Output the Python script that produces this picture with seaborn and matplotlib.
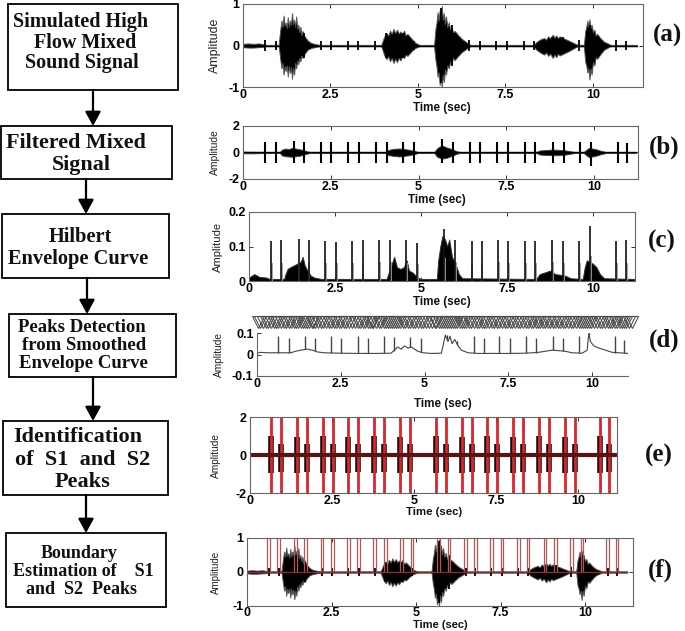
import numpy as np
import matplotlib
matplotlib.use('Agg')
import matplotlib.pyplot as plt
import seaborn as sns
from matplotlib.patches import Rectangle, FancyArrowPatch

# ---------------- data ----------------
s1_times = [0.64, 1.44, 2.22, 3.00, 3.78, 4.57, 5.67, 6.47, 7.23, 8.03, 8.82, 9.60, 10.67]
s2_times = [0.94, 1.73, 2.52, 3.30, 4.09, 4.88, 5.98, 6.76, 7.54, 8.31, 9.13, 9.91, 10.95]

# (a)/(f) simulated mixed signal: heart-sound spikes + lung-sound envelope (t, upper, lower)
mix_s1_amp = [0.13, 0.5, 0.12, 0.12, 0.12, 0.3, 0.9, 0.13, 0.12, 0.12, 0.2, 0.14, 0.13]
mix_s2_amp = [0.12, 0.3, 0.11, 0.12, 0.3, 0.12, 0.5, 0.12, 0.12, 0.12, 0.2, 0.5, 0.12]
mix_env = [
    (0.00, 0.04, -0.04), (0.15, 0.05, -0.05), (0.30, 0.04, -0.05), (0.45, 0.05, -0.04),
    (0.58, 0.03, -0.03), (0.62, 0.015, -0.015),
    (1.02, 0.015, -0.015), (1.06, 0.35, -0.30), (1.10, 0.60, -0.55), (1.13, 0.45, -0.42),
    (1.16, 0.72, -0.70), (1.19, 0.48, -0.50), (1.22, 0.55, -0.62), (1.25, 0.42, -0.48),
    (1.28, 0.68, -0.75), (1.31, 0.45, -0.50), (1.34, 0.60, -0.66), (1.37, 0.50, -0.52),
    (1.40, 0.78, -0.80), (1.43, 0.52, -0.55), (1.46, 0.62, -0.70), (1.49, 0.45, -0.42),
    (1.52, 0.70, -0.55), (1.55, 0.40, -0.36), (1.58, 0.50, -0.45), (1.61, 0.32, -0.30),
    (1.64, 0.45, -0.38), (1.67, 0.25, -0.24), (1.70, 0.35, -0.30), (1.76, 0.22, -0.20),
    (1.85, 0.12, -0.10), (1.95, 0.06, -0.06), (2.10, 0.03, -0.03), (2.20, 0.015, -0.015),
    (3.95, 0.015, -0.015), (4.03, 0.20, -0.22), (4.10, 0.30, -0.33), (4.15, 0.24, -0.26),
    (4.20, 0.36, -0.38), (4.25, 0.28, -0.30), (4.30, 0.40, -0.42), (4.35, 0.30, -0.32),
    (4.40, 0.38, -0.40), (4.45, 0.29, -0.30), (4.50, 0.34, -0.36), (4.55, 0.27, -0.26),
    (4.60, 0.36, -0.30), (4.65, 0.24, -0.22), (4.70, 0.28, -0.25), (4.80, 0.18, -0.15),
    (4.90, 0.08, -0.07), (5.00, 0.03, -0.03), (5.05, 0.015, -0.015),
    (5.46, 0.015, -0.015), (5.50, 0.40, -0.35), (5.53, 0.55, -0.50), (5.56, 0.80, -0.75),
    (5.59, 0.60, -0.65), (5.62, 0.85, -0.95), (5.65, 0.65, -0.75), (5.68, 0.95, -1.00),
    (5.71, 0.62, -0.70), (5.74, 0.78, -0.88), (5.77, 0.52, -0.58), (5.80, 0.70, -0.70),
    (5.84, 0.45, -0.48), (5.88, 0.56, -0.55), (5.92, 0.38, -0.38), (5.96, 0.46, -0.45),
    (6.00, 0.32, -0.30), (6.05, 0.35, -0.35), (6.15, 0.25, -0.25), (6.25, 0.16, -0.16),
    (6.35, 0.10, -0.10), (6.45, 0.04, -0.04), (6.50, 0.015, -0.015),
    (8.30, 0.015, -0.015), (8.38, 0.08, -0.10), (8.48, 0.14, -0.16), (8.60, 0.18, -0.22),
    (8.66, 0.14, -0.17), (8.72, 0.22, -0.25), (8.78, 0.17, -0.20), (8.85, 0.26, -0.30),
    (8.90, 0.19, -0.22), (8.95, 0.24, -0.28), (9.00, 0.18, -0.20), (9.05, 0.22, -0.24),
    (9.15, 0.18, -0.20), (9.30, 0.12, -0.14), (9.45, 0.06, -0.07), (9.55, 0.02, -0.02),
    (9.74, 0.015, -0.015), (9.78, 0.35, -0.40), (9.81, 0.45, -0.48), (9.84, 0.60, -0.65),
    (9.87, 0.45, -0.55), (9.90, 0.63, -0.82), (9.93, 0.42, -0.55), (9.96, 0.50, -0.70),
    (10.00, 0.32, -0.40), (10.04, 0.38, -0.48), (10.08, 0.24, -0.28), (10.12, 0.28, -0.32),
    (10.22, 0.17, -0.20), (10.32, 0.09, -0.10), (10.45, 0.04, -0.04), (10.50, 0.015, -0.015),
    (11.25, 0.015, -0.015)]

# (b) filtered signal
filt_s1_pos = [0.80, 0.85, 0.80, 0.80, 0.80, 0.80, 1.05, 0.80, 0.80, 0.80, 0.80, 0.80, 0.80]
filt_s1_neg = [-0.80, -0.80, -0.80, -0.80, -0.80, -0.80, -0.80, -0.80, -0.80, -0.80, -0.80, -0.80, -0.80]
filt_s2_pos = [0.80, 0.80, 0.80, 0.80, 0.80, 0.80, 0.80, 0.80, 0.80, 0.80, 0.80, 0.80, 0.75]
filt_s2_neg = [-0.80, -0.80, -0.80, -0.80, -0.80, -0.80, -0.80, -0.80, -0.80, -0.80, -0.80, -1.05, -0.80]
filt_env = [
    (0.00, 0.06, -0.06), (0.30, 0.05, -0.06), (0.58, 0.04, -0.04), (0.62, 0.03, -0.03),
    (1.05, 0.03, -0.03), (1.10, 0.20, -0.20), (1.20, 0.30, -0.28), (1.30, 0.25, -0.30),
    (1.40, 0.35, -0.32), (1.50, 0.30, -0.28), (1.60, 0.25, -0.25), (1.70, 0.20, -0.18),
    (1.80, 0.10, -0.10), (1.90, 0.04, -0.04),
    (4.05, 0.03, -0.03), (4.15, 0.20, -0.20), (4.30, 0.28, -0.26), (4.45, 0.30, -0.30),
    (4.60, 0.26, -0.25), (4.75, 0.20, -0.20), (4.90, 0.10, -0.10), (5.00, 0.03, -0.03),
    (5.45, 0.03, -0.03), (5.52, 0.30, -0.30), (5.60, 0.45, -0.40), (5.70, 0.50, -0.45),
    (5.80, 0.38, -0.40), (5.90, 0.30, -0.30), (6.00, 0.20, -0.20), (6.10, 0.08, -0.08),
    (6.20, 0.03, -0.03),
    (8.35, 0.03, -0.03), (8.45, 0.15, -0.15), (8.60, 0.18, -0.18), (8.80, 0.22, -0.20),
    (9.00, 0.20, -0.20), (9.20, 0.15, -0.15), (9.35, 0.08, -0.08), (9.45, 0.03, -0.03),
    (9.70, 0.03, -0.03), (9.78, 0.20, -0.20), (9.85, 0.35, -0.35), (9.95, 0.30, -0.30),
    (10.05, 0.25, -0.25), (10.20, 0.12, -0.12), (10.35, 0.03, -0.03), (11.20, 0.03, -0.03)]

# (c) Hilbert envelope
hilb_s1_amp = [0.117, 0.122, 0.117, 0.115, 0.120, 0.118, 0.150, 0.115, 0.120, 0.115, 0.120, 0.115, 0.115]
hilb_s2_amp = [0.118, 0.118, 0.114, 0.119, 0.120, 0.110, 0.120, 0.115, 0.115, 0.115, 0.115, 0.160, 0.118]
hilb_env = [
    (0.00, 0.010), (0.15, 0.020), (0.30, 0.012), (0.50, 0.010), (0.60, 0.006),
    (1.02, 0.006), (1.06, 0.020), (1.12, 0.035), (1.20, 0.040), (1.30, 0.045), (1.40, 0.050),
    (1.50, 0.055), (1.56, 0.070), (1.62, 0.045), (1.70, 0.030), (1.80, 0.015), (1.90, 0.010),
    (2.10, 0.006), (4.00, 0.006), (4.08, 0.030), (4.15, 0.050), (4.22, 0.070), (4.30, 0.040),
    (4.40, 0.035), (4.50, 0.040), (4.58, 0.060), (4.65, 0.030), (4.75, 0.025), (4.90, 0.010),
    (5.00, 0.006), (5.46, 0.006), (5.50, 0.060), (5.56, 0.100), (5.62, 0.130), (5.70, 0.120),
    (5.76, 0.100), (5.82, 0.120), (5.90, 0.070), (6.00, 0.050), (6.10, 0.020), (6.20, 0.008),
    (8.35, 0.006), (8.45, 0.020), (8.60, 0.025), (8.75, 0.030), (8.90, 0.020), (9.05, 0.018),
    (9.20, 0.015), (9.35, 0.008), (9.70, 0.006), (9.76, 0.040), (9.82, 0.060), (9.90, 0.055),
    (10.00, 0.050), (10.10, 0.040), (10.20, 0.020), (10.32, 0.008), (11.20, 0.006)]

# (d) smoothed envelope and detected peaks
smooth_s1_amp = [0.087, 0.087, 0.087, 0.087, 0.087, 0.083, 0.090, 0.086, 0.086, 0.086, 0.084, 0.084, 0.086]
smooth_s2_amp = [0.075, 0.075, 0.075, 0.077, 0.083, 0.075, 0.065, 0.075, 0.075, 0.075, 0.078, 0.098, 0.067]
smooth_base = [
    (0.00, 0.005), (0.10, 0.010), (0.30, 0.008), (0.60, 0.008), (1.00, 0.008), (1.15, 0.015),
    (1.30, 0.020), (1.50, 0.025), (1.65, 0.020), (1.80, 0.012), (2.00, 0.008), (2.50, 0.006),
    (3.00, 0.005), (3.50, 0.005), (4.00, 0.006), (4.10, 0.020), (4.20, 0.035), (4.30, 0.025),
    (4.40, 0.040), (4.50, 0.030), (4.60, 0.035), (4.70, 0.025), (4.80, 0.015), (4.95, 0.008),
    (5.20, 0.005), (5.50, 0.006), (5.55, 0.040), (5.62, 0.090), (5.70, 0.060), (5.76, 0.085),
    (5.82, 0.050), (5.90, 0.070), (6.00, 0.040), (6.10, 0.020), (6.30, 0.008), (6.60, 0.005),
    (7.00, 0.005), (7.50, 0.005), (8.00, 0.006), (8.40, 0.010), (8.60, 0.015), (8.80, 0.020),
    (9.00, 0.018), (9.20, 0.015), (9.40, 0.008), (9.70, 0.006), (9.85, 0.020), (9.90, 0.098),
    (9.95, 0.060), (10.05, 0.040), (10.20, 0.030), (10.40, 0.020), (10.60, 0.010), (11.00, 0.006),
    (11.10, 0.005)]
peak_marks = [0.02, 0.10, 0.17, 0.26, 0.33, 0.41, 0.50, 0.57, 0.64, 0.72, 0.80, 0.87, 0.94,
              1.02, 1.09, 1.16, 1.22, 1.30, 1.37, 1.44, 1.50, 1.56, 1.63, 1.68, 1.73, 1.81,
              1.90, 1.98, 2.06, 2.14, 2.22, 2.30, 2.37, 2.45, 2.52, 2.60, 2.67, 2.75, 2.84,
              2.92, 3.00, 3.08, 3.16, 3.23, 3.30, 3.37, 3.42, 3.47, 3.55, 3.63, 3.70, 3.78,
              3.85, 3.92, 3.98, 4.04, 4.09, 4.15, 4.21, 4.28, 4.35, 4.42, 4.50, 4.57, 4.64,
              4.72, 4.80, 4.88, 4.96, 5.05, 5.14, 5.22, 5.30, 5.35, 5.42, 5.50, 5.56, 5.62,
              5.67, 5.72, 5.78, 5.84, 5.90, 5.98, 6.06, 6.12, 6.18, 6.25, 6.32, 6.40, 6.47,
              6.55, 6.63, 6.70, 6.76, 6.84, 6.92, 7.00, 7.08, 7.16, 7.23, 7.31, 7.39, 7.47,
              7.54, 7.62, 7.70, 7.78, 7.86, 7.95, 8.03, 8.10, 8.17, 8.24, 8.31, 8.38, 8.45,
              8.52, 8.60, 8.67, 8.75, 8.82, 8.90, 8.97, 9.05, 9.13, 9.20, 9.28, 9.36, 9.44,
              9.52, 9.60, 9.66, 9.72, 9.78, 9.85, 9.91, 9.98, 10.06, 10.14, 10.22, 10.30,
              10.38, 10.46, 10.54, 10.60, 10.67, 10.75, 10.83, 10.90, 10.95, 11.02, 11.10, 11.18]
peak_mark_level = 0.15

# (e) identified S1/S2 bursts
e_s1_pos = [1.00, 0.95, 1.00, 0.95, 1.00, 0.95, 1.00, 0.95, 1.00, 0.95, 1.00, 0.95, 1.00]
e_s1_neg = [-0.95, -0.95, -0.95, -0.95, -0.95, -0.95, -0.95, -0.95, -0.95, -0.95, -0.95, -0.95, -0.95]
e_s2_pos = [0.60, 0.60, 0.60, 0.60, 0.60, 0.60, 0.60, 0.60, 0.60, 0.60, 0.60, 0.60, 0.60]
e_s2_neg = [-0.90, -0.90, -0.90, -0.90, -0.90, -0.90, -0.90, -0.90, -0.90, -0.90, -0.90, -0.90, -0.90]

xticks = [0, 2.5, 5, 7.5, 10]
xtick_labels = ['0', '2.5', '5', '7.5', '10']

flow_steps = [
    ["Simulated High", "Flow Mixed", "Sound Signal"],
    ["Filtered Mixed", "Signal"],
    ["Hilbert", "Envelope Curve"],
    ["Peaks Detection", "from Smoothed", "Envelope Curve"],
    ["Identification", "of  S1  and  S2", "Peaks"],
    ["Boundary", "Estimation of    S1", "and  S2  Peaks"],
]
panel_tags = ['(a)', '(b)', '(c)', '(d)', '(e)', '(f)']

# ---------------- style ----------------
sns.set_theme(style='ticks')
plt.rcParams['font.family'] = ['Liberation Sans', 'DejaVu Sans']
plt.rcParams['font.weight'] = 'bold'

W, H = 685, 631
fig = plt.figure(figsize=(W / 100, H / 100), dpi=100)
fig.patch.set_facecolor('white')

# ---------------- flowchart ----------------
fc = fig.add_axes([0, 0, 1, 1])
fc.set_xlim(0, W)
fc.set_ylim(H, 0)
fc.axis('off')

boxes = [(8, 4, 178, 90), (1.5, 126, 172, 179), (2, 214, 169, 278),
         (9, 314, 176, 377), (3, 421, 168, 495), (6, 533, 166, 607)]
text_x = [[81, 85, 82], [76, 81], [80, 78], [82, 84, 83], [78, 83, 82], [79, 83, 82]]
text_y = [[22, 43, 63], [143, 165], [237, 259], [327, 346, 364], [437, 460, 482], [553, 572, 589]]
text_fs = [14.5, 15.8, 14.7, 13.5, 16.0, 13.0]
for (x0, y0, x1, y1), lines, xs, ys, fs in zip(boxes, flow_steps, text_x, text_y, text_fs):
    fc.add_patch(Rectangle((x0, y0), x1 - x0, y1 - y0, fill=False, lw=1.3, ec='black'))
    for ln, tx, ty in zip(lines, xs, ys):
        fc.text(tx, ty, ln, ha='center', va='center', fontsize=fs, fontweight='bold',
                family=['Liberation Serif', 'DejaVu Serif'], color='#111')

arrows = [(93, 90, 126), (86, 179, 214), (87, 278, 314), (93, 377, 421), (86, 495, 533)]
for ax_x, ya, yb in arrows:
    fc.add_patch(FancyArrowPatch((ax_x, ya), (ax_x, yb),
                                 arrowstyle='-|>,head_length=0.86,head_width=0.47',
                                 mutation_scale=10, lw=1.6, color='black',
                                 shrinkA=0, shrinkB=0))


# ---------------- signal panels ----------------
def add_ax(x0, y0, x1, y1):
    return fig.add_axes([x0 / W, 1 - y1 / H, (x1 - x0) / W, (y1 - y0) / H])


def style_ax(ax, xmax, ylim, yticks, ylabels, box=True, xpad=1.5):
    ax.set_xlim(0, xmax)
    ax.set_ylim(*ylim)
    ax.set_xticks(xticks)
    ax.set_xticklabels(xtick_labels)
    ax.set_yticks(yticks)
    ax.set_yticklabels(ylabels)
    ax.tick_params(direction='in', length=3, width=0.7, top=box, right=box,
                   labelsize=9, colors='#333', labelcolor='black')
    ax.tick_params(axis='x', pad=xpad)
    ax.tick_params(axis='y', pad=2.5)
    for sp in ax.spines.values():
        sp.set_color('#666')
        sp.set_linewidth(0.8)
    if not box:
        ax.spines['top'].set_visible(False)
        ax.spines['right'].set_visible(False)
    ax.set_facecolor('white')


def env_cols(env):
    t = [p[0] for p in env]
    return t, [p[1] for p in env], [p[2] for p in env] if len(env[0]) > 2 else None


def draw_mixed(ax):
    t, hi, lo = env_cols(mix_env)
    ax.fill_between(t, lo, hi, color='black', ec='#555', lw=0.7)
    ax.vlines(s1_times, -np.array(mix_s1_amp), mix_s1_amp, color='black', lw=1.3)
    ax.vlines(s2_times, -np.array(mix_s2_amp), mix_s2_amp, color='black', lw=1.3)
    ax.plot([t[0], t[-1]], [0, 0], color='black', lw=1.0)


# (a)
ax = add_ax(243, 4, 643, 87)
draw_mixed(ax)
style_ax(ax, 11.43, (-1, 1), [-1, 0, 1], ['-1', '0', '1'])

# (b)
ax = add_ax(243, 126, 638, 179)
t, hi, lo = env_cols(filt_env)
ax.fill_between(t, lo, hi, color='black', ec='#444', lw=0.7)
ax.vlines(s1_times, filt_s1_neg, filt_s1_pos, color='black', lw=1.5)
ax.vlines(s2_times, filt_s2_neg, filt_s2_pos, color='black', lw=1.5)
ax.plot([t[0], t[-1]], [0, 0], color='black', lw=1.0)
style_ax(ax, 11.25, (-2, 2), [-2, 0, 2], ['-2', '0', '2'])

# (c)
ax = add_ax(249, 212, 635, 281)
t, hi, _ = env_cols(hilb_env)
ax.fill_between(t, 0, hi, color='black', ec='#333', lw=0.7)
ax.vlines(np.array(s1_times) + 0.025, 0, np.array(hilb_s1_amp) * 0.45, color='#9a9a9a', lw=1.3)
ax.vlines(np.array(s2_times) + 0.025, 0, np.array(hilb_s2_amp) * 0.45, color='#9a9a9a', lw=1.3)
ax.vlines(s1_times, 0, hilb_s1_amp, color='#111', lw=1.2)
ax.vlines(s2_times, 0, hilb_s2_amp, color='#111', lw=1.2)
style_ax(ax, 11.22, (0, 0.2), [0, 0.1, 0.2], ['0', '0.1', '0.2'])

# (d)
ax = add_ax(257, 333, 628, 376)
bt = [p[0] for p in smooth_base]
by = [p[1] for p in smooth_base]
sns.lineplot(x=bt, y=by, ax=ax, color='#444', lw=0.8, estimator=None, sort=False)
ax.vlines(s1_times, np.interp(s1_times, bt, by), smooth_s1_amp, color='#444', lw=1.0)
ax.vlines(s2_times, np.interp(s2_times, bt, by), smooth_s2_amp, color='#444', lw=1.0)
ax.plot(peak_marks, [peak_mark_level] * len(peak_marks), ls='none', marker='v', ms=8,
        mfc='none', mec='#4a4a4a', mew=0.75, clip_on=False)
style_ax(ax, 11.07, (-0.1, 0.1), [-0.1, 0, 0.1], ['-0.1', '0', '0.1'], box=False)

# (e)
ax = add_ax(250, 417, 617, 493)
ax.vlines(s1_times, e_s1_neg, e_s1_pos, color='#1a0505', lw=4.0)
ax.vlines(s2_times, e_s2_neg, e_s2_pos, color='#1a0505', lw=4.0)
ax.vlines(s1_times + s2_times, -2, 2, color='#d8262a', lw=2.0)
ax.plot([0.05, 11.15], [0, 0], color='#5a1212', lw=3.0)
style_ax(ax, 11.19, (-2, 2), [-2, 0, 2], ['-2', '0', '2'])

# (f)
ax = add_ax(247, 538, 633, 606)
draw_mixed(ax)
half_w = 0.04
for bt_ in s1_times + s2_times:
    ax.plot([bt_ - half_w, bt_ - half_w, bt_ + half_w, bt_ + half_w], [0, 1, 1, 0],
            color='#b25858', lw=0.9)
ax.plot([0, 11.25], [0, 0], color='#8a2a2a', lw=1.0)
style_ax(ax, 11.42, (-1, 1), [-1, 0, 1], ['-1', '0', '1'], xpad=1.0)

# axis labels and panel tags
ylab = [(215, 45.5, 8.9), (215, 152.5, 7.4), (218, 246.5, 8.1),
        (219, 354.5, 7.3), (216, 455, 7.3), (216, 572, 7.0)]
for x, y, fs in ylab:
    fig.text(x / W, 1 - y / H, 'Amplitude', rotation=90, ha='center', va='center',
             fontsize=fs, fontweight='normal', color='#222')
xlab = [(442, 108, 8.4), (437, 200, 8.4), (442, 302, 8.4), (443, 404, 8.4),
        (434, 512, 8.2), (440, 625, 8.0)]
for x, y, fs in xlab:
    fig.text(x / W, 1 - y / H, 'Time (sec)', ha='center', va='center', fontsize=fs,
             fontweight='bold', color='#111')
tag_pos = [(667, 35), (664, 147), (662, 241), (664, 340), (659, 455), (660, 570)]
for tag, (x, y) in zip(panel_tags, tag_pos):
    fig.text(x / W, 1 - y / H, tag, ha='center', va='center', fontsize=18,
             fontweight='bold', family=['Liberation Serif', 'DejaVu Serif'], color='#111')

fig.savefig('out.png', dpi=100, facecolor='white')
